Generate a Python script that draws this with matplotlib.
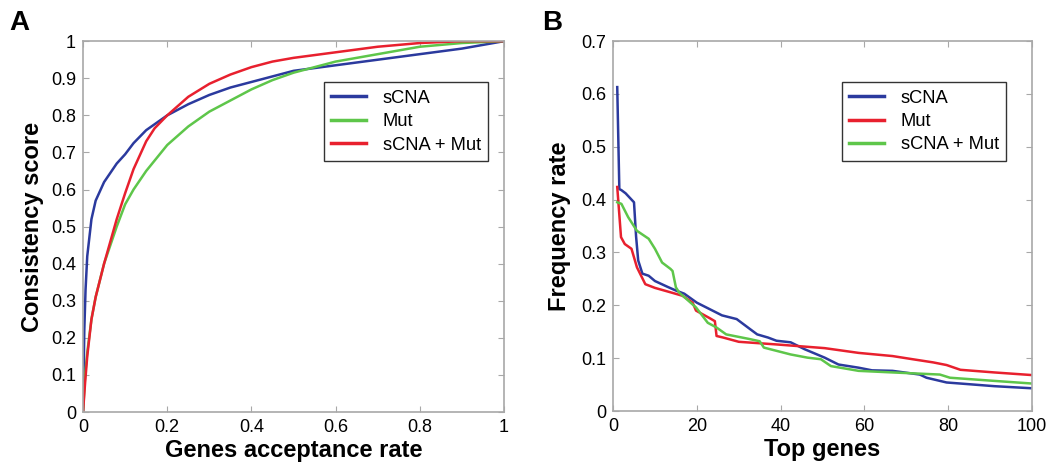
import matplotlib
matplotlib.use("Agg")
import matplotlib.pyplot as plt

plt.rcParams['font.family'] = ['Liberation Sans', 'DejaVu Sans']

# Panel A: consistency score vs genes acceptance rate
a_x_scna = [0, 0.003, 0.006, 0.01, 0.02, 0.03, 0.05, 0.08, 0.1, 0.12, 0.15, 0.2,
            0.25, 0.3, 0.35, 0.4, 0.45, 0.5, 0.6, 0.7, 0.8, 0.9, 1.0]
a_scna = [0, 0.22, 0.33, 0.42, 0.52, 0.57, 0.62, 0.67, 0.695, 0.725, 0.76, 0.80,
          0.83, 0.855, 0.875, 0.89, 0.905, 0.92, 0.935, 0.95, 0.965, 0.98, 1.0]
a_x_mut = [0, 0.005, 0.01, 0.02, 0.03, 0.05, 0.08, 0.1, 0.12, 0.15, 0.2, 0.25,
           0.3, 0.35, 0.4, 0.45, 0.5, 0.6, 0.7, 0.8, 0.9, 1.0]
a_mut = [0, 0.1, 0.16, 0.25, 0.31, 0.4, 0.5, 0.56, 0.6, 0.65, 0.72, 0.77,
         0.81, 0.84, 0.87, 0.895, 0.915, 0.945, 0.965, 0.985, 0.995, 1.0]
a_x_both = [0, 0.005, 0.01, 0.02, 0.03, 0.05, 0.08, 0.1, 0.12, 0.15, 0.17, 0.2,
            0.22, 0.25, 0.3, 0.35, 0.4, 0.45, 0.5, 0.6, 0.7, 0.8, 0.9, 1.0]
a_both = [0, 0.08, 0.15, 0.25, 0.31, 0.4, 0.52, 0.59, 0.655, 0.73, 0.765, 0.80,
          0.82, 0.85, 0.885, 0.91, 0.93, 0.945, 0.955, 0.97, 0.985, 0.995, 1.0, 1.0]

# Panel B: frequency rate of top genes
b_x_scna = [1, 1.5, 2, 3, 5, 5.5, 6, 7, 8.5, 10, 13, 15, 17, 20, 23, 26, 29.5,
            32.7, 34.4, 37, 39, 42.4, 45.7, 50.5, 53.8, 58.6, 61.8, 66.7, 73.2,
            74.8, 79.6, 82.9, 91, 100]
b_scna = [0.613, 0.42, 0.418, 0.412, 0.395, 0.33, 0.285, 0.26, 0.256, 0.246,
          0.235, 0.228, 0.222, 0.205, 0.193, 0.181, 0.174, 0.155, 0.145, 0.139,
          0.133, 0.13, 0.117, 0.101, 0.088, 0.082, 0.077, 0.076, 0.069, 0.063,
          0.054, 0.052, 0.047, 0.043]
b_x_mut = [1, 1.9, 2.8, 4.4, 5.7, 7.7, 10, 14, 16.6, 19, 19.8, 23, 24.3, 24.7,
           26.3, 30, 39, 50.5, 58.6, 66.7, 71.5, 76.4, 79.6, 82.9, 91, 100]
b_mut = [0.424, 0.329, 0.316, 0.307, 0.272, 0.24, 0.233, 0.224, 0.218, 0.205,
         0.19, 0.176, 0.17, 0.142, 0.139, 0.131, 0.126, 0.119, 0.11, 0.104,
         0.098, 0.092, 0.087, 0.078, 0.073, 0.068]
b_x_both = [1, 2, 3.6, 5.7, 8.5, 10, 11.7, 13.7, 14.2, 15, 15.8, 19.8, 22.6,
            24.7, 27, 32.7, 35, 36, 42.4, 46.4, 49.6, 52, 58.6, 66.7, 78, 80.4,
            91, 100]
b_both = [0.395, 0.392, 0.367, 0.341, 0.326, 0.307, 0.281, 0.269, 0.265, 0.234,
          0.224, 0.196, 0.167, 0.158, 0.145, 0.136, 0.132, 0.12, 0.107, 0.101,
          0.098, 0.085, 0.076, 0.073, 0.069, 0.063, 0.057, 0.052]

blue = '#2b3a9e'
red = '#e8202e'
green = '#5ec64a'
gray = '#a8a8a8'

fig = plt.figure(figsize=(10.51, 4.70), dpi=100)
ax1 = fig.add_axes([0.079, 0.1234, 0.4006, 0.789])
ax2 = fig.add_axes([0.5833, 0.1255, 0.3987, 0.787])


def style(ax):
    for s in ax.spines.values():
        s.set_color(gray)
        s.set_linewidth(1.2)
    ax.tick_params(direction='in', top=True, right=True, length=4,
                   color=gray, labelsize=13, labelcolor='black', pad=5)


def add_legend(ax, anchor):
    leg = ax.legend(loc='upper right', bbox_to_anchor=anchor, borderaxespad=0,
                    fontsize=13.2, frameon=True, fancybox=False, edgecolor='black',
                    handlelength=1.9, labelspacing=0.35, borderpad=0.4,
                    handletextpad=0.9)
    leg.get_frame().set_linewidth(1.0)
    for ln in leg.get_lines():
        ln.set_linewidth(2.5)


ax1.plot(a_x_scna, a_scna, color=blue, lw=1.8, label='sCNA')
ax1.plot(a_x_mut, a_mut, color=green, lw=1.8, label='Mut')
ax1.plot(a_x_both, a_both, color=red, lw=1.8, label='sCNA + Mut')
ax1.set_xlim(0, 1)
ax1.set_ylim(0, 1)
ax1.set_xticks([0, 0.2, 0.4, 0.6, 0.8, 1])
ax1.set_xticklabels(['0', '0.2', '0.4', '0.6', '0.8', '1'])
ax1.set_yticks([i / 10 for i in range(11)])
ax1.set_yticklabels(['0'] + ['0.%d' % i for i in range(1, 10)] + ['1'])
ax1.set_xlabel('Genes acceptance rate', fontsize=17, fontweight='bold', labelpad=2)
ax1.set_ylabel('Consistency score', fontsize=17, fontweight='bold', labelpad=5)
style(ax1)
add_legend(ax1, (0.962, 0.889))

ax2.plot(b_x_scna, b_scna, color=blue, lw=1.8, label='sCNA')
ax2.plot(b_x_mut, b_mut, color=red, lw=1.8, label='Mut')
ax2.plot(b_x_both, b_both, color=green, lw=1.8, label='sCNA + Mut')
ax2.set_xlim(0, 100)
ax2.set_ylim(0, 0.7)
ax2.set_xticks([0, 20, 40, 60, 80, 100])
ax2.set_yticks([0, 0.1, 0.2, 0.3, 0.4, 0.5, 0.6, 0.7])
ax2.set_yticklabels(['0', '0.1', '0.2', '0.3', '0.4', '0.5', '0.6', '0.7'])
ax2.set_xlabel('Top genes', fontsize=17, fontweight='bold', labelpad=2)
ax2.set_ylabel('Frequency rate', fontsize=17, fontweight='bold', labelpad=7)
style(ax2)
add_legend(ax2, (0.938, 0.889))

fig.text(0.009, 0.951, 'A', fontsize=20, fontweight='bold', va='center')
fig.text(0.516, 0.951, 'B', fontsize=20, fontweight='bold', va='center')

fig.savefig('out.png', dpi=100, facecolor='white')
